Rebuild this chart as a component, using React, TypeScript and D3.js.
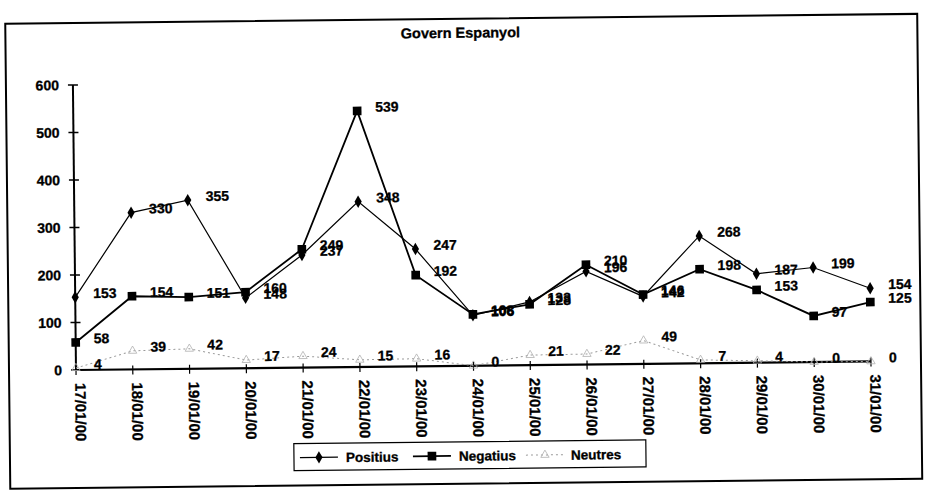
import React from "react";
import * as d3 from "d3";

const dates = ["17/01/00","18/01/00","19/01/00","20/01/00","21/01/00","22/01/00","23/01/00","24/01/00","25/01/00","26/01/00","27/01/00","28/01/00","29/01/00","30/01/00","31/01/00"];
const positius = [153, 330, 355, 148, 237, 348, 247, 106, 133, 196, 142, 268, 187, 199, 154];
const negatius = [58, 154, 151, 160, 249, 539, 192, 108, 128, 210, 146, 198, 153, 97, 125];
const neutres = [4, 39, 42, 17, 24, 15, 16, 0, 21, 22, 49, 7, 4, 0, 0];
const yTicks = [0, 100, 200, 300, 400, 500, 600];
const seriesNames = ["Positius", "Negatius", "Neutres"];

const W = 926, H = 502;
const FONT = "'Liberation Sans', Arial, sans-serif";

export default function App() {
  const x = d3.scalePoint<string>().domain(dates).range([76, 871]);
  const y = d3.scaleLinear().domain([0, 600]).range([370, 85]);
  const line = d3.line<number>().x((_, i) => x(dates[i])!).y(d => y(d));
  const diamond = d3.symbol().type(d3.symbolDiamond).size(45)()!;
  const square = d3.symbol().type(d3.symbolSquare).size(75)()!;
  const tri = d3.symbol().type(d3.symbolTriangle).size(30)()!;

  const labels = (vals: number[], key: string, color = "#000") =>
    vals.map((v, i) => (
      <text key={key + i} x={x(dates[i])! + 18} y={y(v) + 1} fontSize={14} fontWeight="bold"
        fill={color} stroke={color} strokeWidth={0.3} fontFamily={FONT}>{v}</text>
    ));

  return (
    <svg width={W} height={H} style={{ position: "absolute", left: 0, top: 0 }}>
      <rect width={W} height={H} fill="#fff" />
      <g transform="rotate(-0.62 76 370)">
        <rect x={9} y={23} width={912} height={465} fill="none" stroke="#000" strokeWidth={2} />
        <text x={464} y={42} textAnchor="middle" fontSize={14.5} fontWeight="bold" stroke="#000" strokeWidth={0.3} fontFamily={FONT}>Govern Espanyol</text>
        {/* y axis */}
        <line x1={76} x2={76} y1={y(600)} y2={y(0)} stroke="#000" strokeWidth={2} />
        {yTicks.map(t => (
          <g key={"yt" + t}>
            <line x1={71} x2={81} y1={y(t)} y2={y(t)} stroke="#000" strokeWidth={1.5} />
            <text x={62} y={y(t) + 5} textAnchor="end" fontSize={14} fontWeight="bold" stroke="#000" strokeWidth={0.3} fontFamily={FONT}>{t}</text>
          </g>
        ))}
        {/* x axis */}
        <line x1={76} x2={x(dates[dates.length - 1])!} y1={y(0)} y2={y(0)} stroke="#000" strokeWidth={2.2} />
        {dates.map(d => (
          <g key={"xt" + d}>
            <line x1={x(d)!} x2={x(d)!} y1={y(0) - 4} y2={y(0) + 5} stroke="#000" strokeWidth={1.2} />
            <text transform={`translate(${x(d)! + 3},${y(0) + 13}) rotate(90)`} fontSize={15} fontWeight="bold"
              stroke="#000" strokeWidth={0.3} fontFamily={FONT} dominantBaseline="middle">{d}</text>
          </g>
        ))}
        {/* series */}
        <path d={line(neutres)!} fill="none" stroke="#9a9a9a" strokeWidth={1} strokeDasharray="2,3" />
        {neutres.map((v, i) => (
          <path key={"nt" + i} d={tri} transform={`translate(${x(dates[i])},${y(v)})`} fill="none" stroke="#b0b0b0" strokeWidth={0.8} />
        ))}
        <path d={line(positius)!} fill="none" stroke="#000" strokeWidth={1.2} />
        {positius.map((v, i) => (
          <path key={"pm" + i} d={diamond} transform={`translate(${x(dates[i])},${y(v)})`} fill="#000" />
        ))}
        <path d={line(negatius)!} fill="none" stroke="#000" strokeWidth={1.8} />
        {negatius.map((v, i) => (
          <path key={"ng" + i} d={square} transform={`translate(${x(dates[i])},${y(v)})`} fill="#000" />
        ))}
        {labels(neutres, "ln")}
        {labels(negatius, "lg")}
        {labels(positius, "lp")}
        {/* legend */}
        <rect x={293} y={446} width={352} height={27} fill="#fff" stroke="#000" strokeWidth={1.2} />
        <line x1={299} x2={337} y1={460} y2={460} stroke="#000" strokeWidth={1.2} />
        <path d={diamond} transform="translate(318,460)" fill="#000" />
        <text x={345} y={465} fontSize={13.5} fontWeight="bold" stroke="#000" strokeWidth={0.3} fontFamily={FONT}>{seriesNames[0]}</text>
        <line x1={412} x2={450} y1={460} y2={460} stroke="#000" strokeWidth={1.8} />
        <path d={square} transform="translate(431,460)" fill="#000" />
        <text x={458} y={465} fontSize={13.5} fontWeight="bold" stroke="#000" strokeWidth={0.3} fontFamily={FONT}>{seriesNames[1]}</text>
        <line x1={525} x2={563} y1={460} y2={460} stroke="#9a9a9a" strokeWidth={1} strokeDasharray="2,3" />
        <path d={tri} transform="translate(544,460)" fill="none" stroke="#b0b0b0" strokeWidth={0.8} />
        <text x={570} y={465} fontSize={13.5} fontWeight="bold" stroke="#000" strokeWidth={0.3} fontFamily={FONT}>{seriesNames[2]}</text>
      </g>
    </svg>
  );
}
